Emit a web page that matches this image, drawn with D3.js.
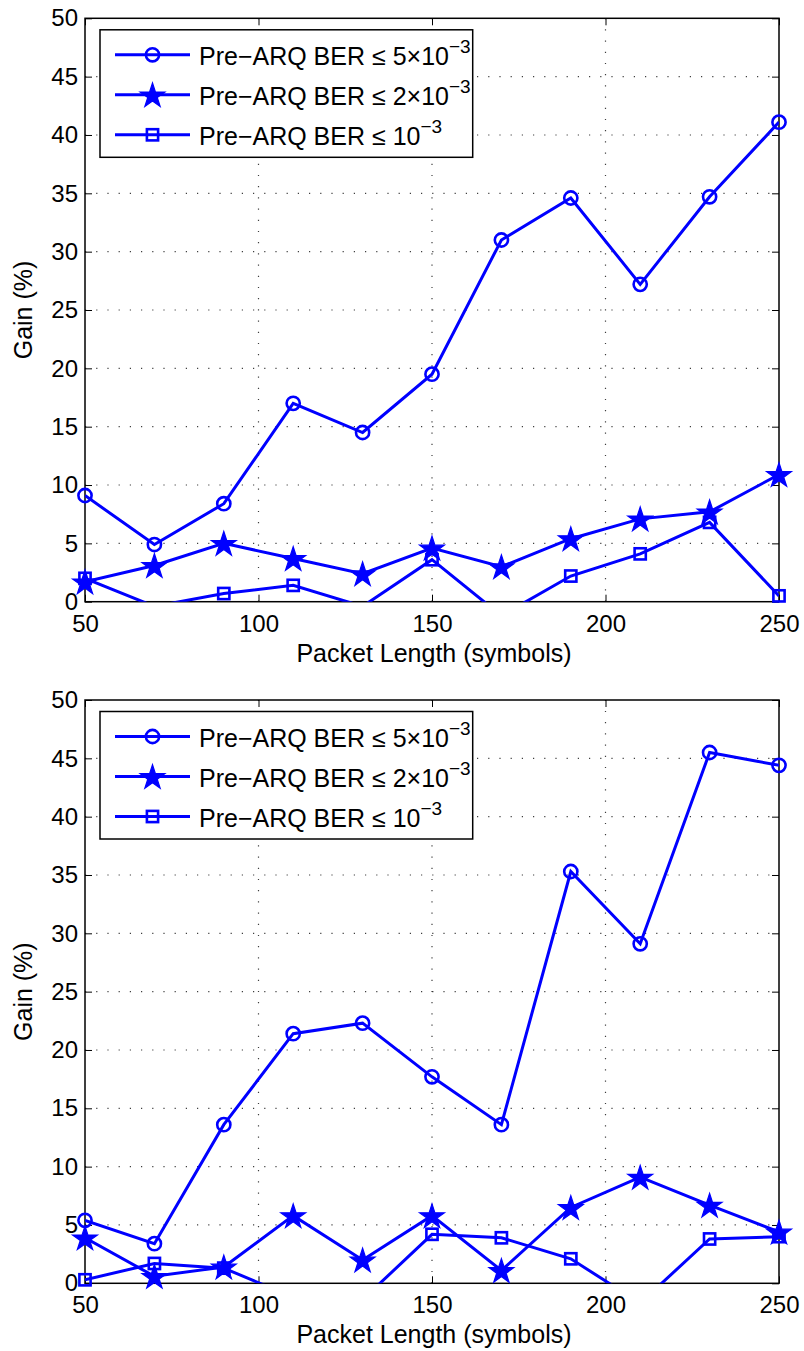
<!DOCTYPE html>
<html>
<head>
<meta charset="utf-8">
<script src="https://cdnjs.cloudflare.com/ajax/libs/d3/7.8.5/d3.min.js"></script>
<style>
  html, body { margin: 0; padding: 0; background: #fff; }
  svg { display: block; }
  text { font-family: "Liberation Sans", Arial, sans-serif; fill: #000; }
</style>
</head>
<body>
<svg id="chart" width="804" height="1351"></svg>
<script>
// ---- data ----
const packetLength = [50, 70, 90, 110, 130, 150, 170, 190, 210, 230, 250];

// top panel
const topBer5e3 = [9.1, 4.9, 8.4, 17.0, 14.5, 19.5, 31.0, 34.6, 27.2, 34.7, 41.1];
const topBer2e3 = [1.7, 3.1, 5.0, 3.7, 2.4, 4.6, 3.0, 5.4, 7.1, 7.7, 10.9];
const topBer1e3 = [2.0, -0.4, 0.7, 1.4, -0.4, 3.6, -1.2, 2.2, 4.1, 6.8, 0.5];

// bottom panel
const botBer5e3 = [5.4, 3.4, 13.6, 21.4, 22.3, 17.7, 13.6, 35.3, 29.1, 45.5, 44.4];
const botBer2e3 = [3.9, 0.6, 1.4, 5.8, 2.0, 5.8, 1.1, 6.5, 9.1, 6.7, 4.4];
const botBer1e3 = [0.3, 1.7, 1.3, -1.2, -1.4, 4.2, 3.9, 2.1, -1.7, 3.8, 4.0];

const xTicks = [50, 100, 150, 200, 250];
const yTicks = [0, 5, 10, 15, 20, 25, 30, 35, 40, 45, 50];
const xDomain = [50, 250];
const yDomain = [0, 50];

const legendMain = ["Pre\u2212ARQ BER \u2264 5\u00d710", "Pre\u2212ARQ BER \u2264 2\u00d710", "Pre\u2212ARQ BER \u2264 10"];
const legendSup = ["\u22123", "\u22123", "\u22123"];
const markerTypes = ["circle", "star", "square"];

const xLabel = "Packet Length (symbols)";
const yLabel = "Gain (%)";

// ---- layout ----
const svg = d3.select("#chart");
const blue = "#0000ff";
const left = 85, right = 779;
const panels = [
  { top: 18.3, bottom: 601.7, series: [topBer5e3, topBer2e3, topBer1e3] },
  { top: 700, bottom: 1283.3, series: [botBer5e3, botBer2e3, botBer1e3] }
];

function drawMarker(g, type, x, y) {
  if (type === "circle") {
    g.append("circle").attr("cx", x).attr("cy", y).attr("r", 6.6)
      .attr("fill", "none").attr("stroke", blue).attr("stroke-width", 2.6);
  } else if (type === "square") {
    g.append("rect").attr("x", x - 5.6).attr("y", y - 5.6).attr("width", 11.2).attr("height", 11.2)
      .attr("fill", "none").attr("stroke", blue).attr("stroke-width", 2.6);
  } else {
    g.append("path").attr("d", d3.symbol(d3.symbolStar, 190)())
      .attr("transform", `translate(${x},${y + 1.2})`)
      .attr("fill", blue).attr("stroke", blue).attr("stroke-width", 1.2);
  }
}

panels.forEach((p, pi) => {
  const x = d3.scaleLinear().domain(xDomain).range([left, right]);
  const y = d3.scaleLinear().domain(yDomain).range([p.bottom, p.top]);
  const g = svg.append("g");

  // clip
  const clipId = "clip" + pi;
  svg.append("defs").append("clipPath").attr("id", clipId)
    .append("rect").attr("x", left).attr("y", p.top).attr("width", right - left).attr("height", p.bottom - p.top);

  // grid
  const grid = g.append("g");
  xTicks.forEach(t => {
    if (t === xDomain[0] || t === xDomain[1]) return;
    grid.append("line").attr("x1", x(t)).attr("x2", x(t)).attr("y1", p.bottom).attr("y2", p.top)
      .attr("stroke", "#000").attr("stroke-width", 1.2).attr("stroke-dasharray", "1.2,10").attr("opacity", 0.75);
  });
  yTicks.forEach(t => {
    if (t === yDomain[0] || t === yDomain[1]) return;
    grid.append("line").attr("x1", left).attr("x2", right).attr("y1", y(t)).attr("y2", y(t))
      .attr("stroke", "#000").attr("stroke-width", 1.2).attr("stroke-dasharray", "1.2,10").attr("opacity", 0.75);
  });

  // axes (d3 axes with inward ticks on all four sides)
  const axB = d3.axisBottom(x).tickValues(xTicks).tickSizeInner(-7).tickSizeOuter(0).tickPadding(14).tickFormat(d3.format("d"));
  const axT = d3.axisTop(x).tickValues(xTicks).tickSizeInner(-7).tickSizeOuter(0).tickFormat("");
  const axL = d3.axisLeft(y).tickValues(yTicks).tickSizeInner(-7).tickSizeOuter(0).tickPadding(14).tickFormat(d3.format("d"));
  const axR = d3.axisRight(y).tickValues(yTicks).tickSizeInner(-7).tickSizeOuter(0).tickFormat("");

  const gB = g.append("g").attr("transform", `translate(0,${p.bottom})`).call(axB);
  const gT = g.append("g").attr("transform", `translate(0,${p.top})`).call(axT);
  const gL = g.append("g").attr("transform", `translate(${left},0)`).call(axL);
  const gR = g.append("g").attr("transform", `translate(${right},0)`).call(axR);
  [gB, gT, gL, gR].forEach(a => {
    a.select(".domain").remove();
    a.selectAll(".tick line").attr("stroke", "#000").attr("stroke-width", 1);
    a.selectAll(".tick text").attr("font-size", 24).attr("font-family", "Liberation Sans, Arial, sans-serif").attr("fill", "#000");
  });
  gB.selectAll(".tick text").attr("dy", "0.71em").attr("y", 13);
  gL.selectAll(".tick text").attr("x", -7);

  // box
  g.append("rect").attr("x", left).attr("y", p.top).attr("width", right - left).attr("height", p.bottom - p.top)
    .attr("fill", "none").attr("stroke", "#000").attr("stroke-width", 1.5);

  // series lines
  const line = d3.line().x((d, i) => x(packetLength[i])).y(d => y(d));
  const lg = g.append("g").attr("clip-path", `url(#${clipId})`);
  p.series.forEach(s => {
    lg.append("path").datum(s).attr("d", line).attr("fill", "none")
      .attr("stroke", blue).attr("stroke-width", 3).attr("stroke-linejoin", "miter");
  });
  // markers
  const mg = g.append("g");
  p.series.forEach((s, si) => {
    s.forEach((v, i) => {
      if (v < yDomain[0] || v > yDomain[1]) return;
      drawMarker(mg, markerTypes[si], x(packetLength[i]), y(v));
    });
  });

  // axis labels
  g.append("text").attr("x", (left + right) / 2 + 2).attr("y", p.bottom + 60)
    .attr("text-anchor", "middle").attr("font-size", 25).text(xLabel);
  g.append("text").attr("transform", `translate(32,${(p.top + p.bottom) / 2}) rotate(-90)`)
    .attr("text-anchor", "middle").attr("font-size", 25).text(yLabel);

  // legend
  const lgX = 100, lgY = p.top + 11.5, lgW = 372.7, lgH = 127.5;
  const leg = g.append("g");
  leg.append("rect").attr("x", lgX).attr("y", lgY).attr("width", lgW).attr("height", lgH)
    .attr("fill", "#fff").attr("stroke", "#000").attr("stroke-width", 1.5);
  legendMain.forEach((lab, i) => {
    const cy = lgY + 25 + i * 40;
    leg.append("line").attr("x1", 115).attr("x2", 190).attr("y1", cy).attr("y2", cy)
      .attr("stroke", blue).attr("stroke-width", 3);
    drawMarker(leg, markerTypes[i], 152.5, cy);
    const t = leg.append("text").attr("x", 199).attr("y", cy + 10.5).attr("font-size", 25);
    t.append("tspan").text(lab);
    t.append("tspan").attr("font-size", 19).attr("dy", -12).text(legendSup[i]);
  });
});
</script>
</body>
</html>
